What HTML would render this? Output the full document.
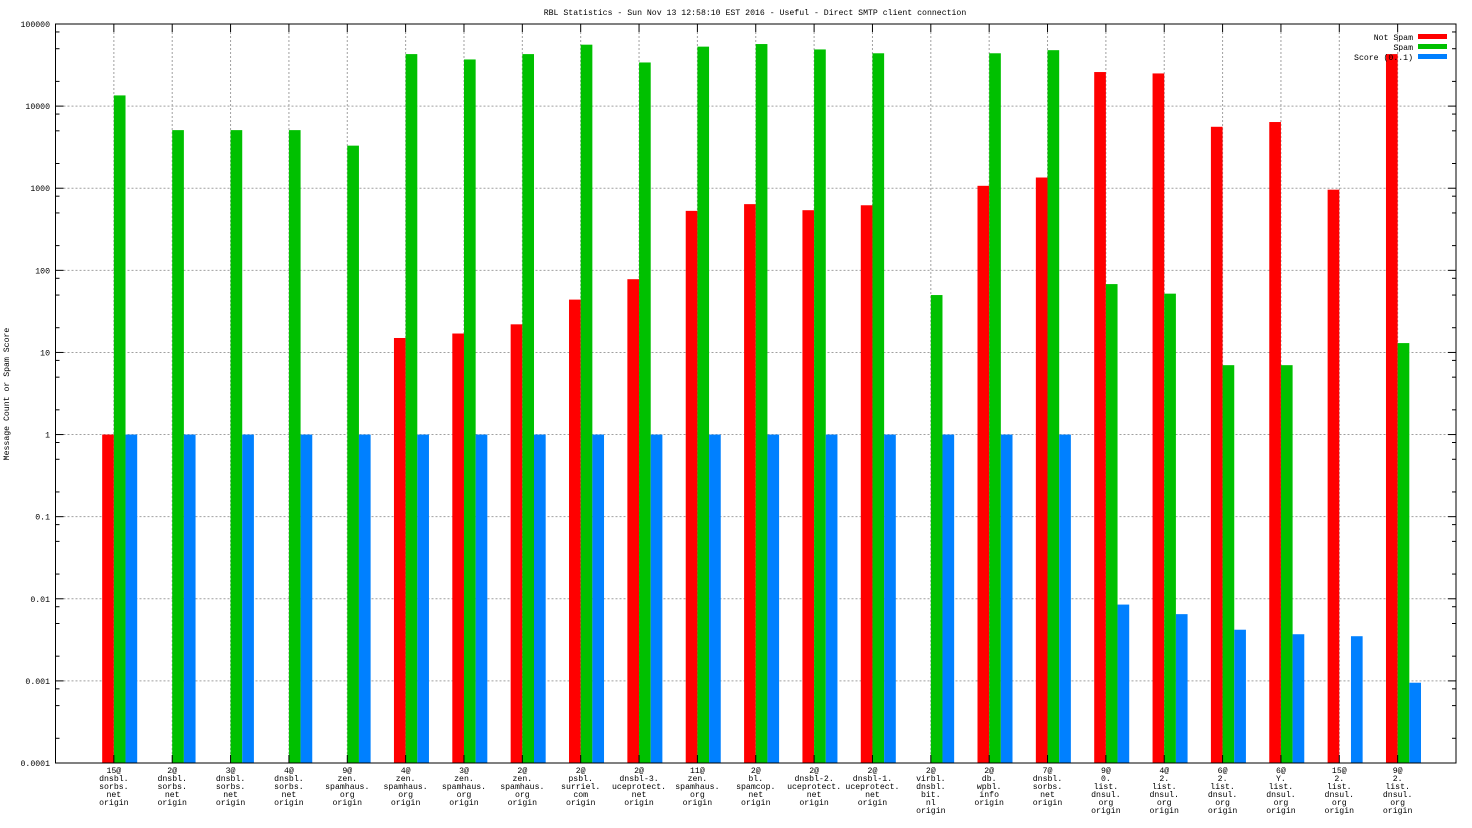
<!DOCTYPE html>
<html><head><meta charset="utf-8"><style>
html,body{margin:0;padding:0;background:#fff;}
svg{display:block;font-family:"Liberation Mono","DejaVu Sans Mono",monospace;font-size:8.2px;}
</style></head><body>
<svg id="chart" width="1472" height="828" xmlns="http://www.w3.org/2000/svg">
<text x="755" y="15" text-anchor="middle">RBL Statistics - Sun Nov 13 12:58:10 EST 2016 - Useful - Direct SMTP client connection</text>
<text transform="translate(9,394) rotate(-90)" text-anchor="middle">Message Count or Spam Score</text>
<g id="grid"></g>
<g id="bars"></g>
<g id="axes"></g>
<g id="legend">
<text x="1413" y="40" text-anchor="end">Not Spam</text>
<rect x="1418" y="34" width="29" height="5" fill="#ff0000"/>
<text x="1413" y="50" text-anchor="end">Spam</text>
<rect x="1418" y="44" width="29" height="5" fill="#00c000"/>
<text x="1413" y="60" text-anchor="end">Score (0..1)</text>
<rect x="1418" y="54" width="29" height="5" fill="#0080ff"/>
</g>
</svg>
<script>
const categories = [
["15@","dnsbl.","sorbs.","net","origin"],["2@","dnsbl.","sorbs.","net","origin"],["3@","dnsbl.","sorbs.","net","origin"],["4@","dnsbl.","sorbs.","net","origin"],
["9@","zen.","spamhaus.","org","origin"],["4@","zen.","spamhaus.","org","origin"],["3@","zen.","spamhaus.","org","origin"],["2@","zen.","spamhaus.","org","origin"],
["2@","psbl.","surriel.","com","origin"],["2@","dnsbl-3.","uceprotect.","net","origin"],["11@","zen.","spamhaus.","org","origin"],["2@","bl.","spamcop.","net","origin"],
["2@","dnsbl-2.","uceprotect.","net","origin"],["2@","dnsbl-1.","uceprotect.","net","origin"],["2@","virbl.","dnsbl.","bit.","nl","origin"],["2@","db.","wpbl.","info","origin"],
["7@","dnsbl.","sorbs.","net","origin"],["9@","0.","list.","dnsul.","org","origin"],["4@","2.","list.","dnsul.","org","origin"],["6@","2.","list.","dnsul.","org","origin"],
["6@","Y.","list.","dnsul.","org","origin"],["15@","2.","list.","dnsul.","org","origin"],["9@","2.","list.","dnsul.","org","origin"]
];
const notSpam = [1,null,null,null,null,15,17,22,44,78,530,640,540,620,null,1070,1350,26000,25000,5600,6400,960,43000];
const spam = [13500,5100,5100,5100,3300,43000,37000,43000,56000,34000,53000,57000,49000,44000,50,44000,48000,68,52,7,7,null,13];
const score = [1,1,1,1,1,1,1,1,1,1,1,1,1,1,1,1,1,0.0085,0.0065,0.0042,0.0037,0.0035,0.00095];
const yTickLabels = ["0.0001","0.001","0.01","0.1","1","10","100","1000","10000","100000"];

const NS="http://www.w3.org/2000/svg";
const L=55.5,R=1456,T=24,B=763;
const slots=categories.length+1;
const xs=i=>L+(R-L)*(i+1)/slots;
const bw=(R-L)/slots*0.2;
const ys=v=>B-(B-T)*(Math.log10(v)+4)/9;
function mk(tag,attrs,parent){const e=document.createElementNS(NS,tag);for(const k in attrs)e.setAttribute(k,attrs[k]);parent.appendChild(e);return e;}
const grid=document.getElementById('grid'),bars=document.getElementById('bars'),axes=document.getElementById('axes');
// horizontal grid + y ticks
yTickLabels.forEach((lab,i)=>{
  const y=ys(parseFloat(lab));
  if(i>0&&i<yTickLabels.length-1){const g=mk('line',{x1:L+8,x2:R-8,y1:y,y2:y,stroke:'#a0a0a0','stroke-dasharray':'2,2'},grid);
  
  }
  const t=mk('text',{x:50,y:y+3,'text-anchor':'end'},axes);t.textContent=lab;
  
  
  mk('line',{x1:L,x2:L+8,y1:y,y2:y,stroke:'#000'},axes);
  mk('line',{x1:R-8,x2:R,y1:y,y2:y,stroke:'#000'},axes);
  if(i<yTickLabels.length-1){[2,5,8].forEach(m=>{const yy=ys(parseFloat(lab)*m);
    mk('line',{x1:L,x2:L+4,y1:yy,y2:yy,stroke:'#000'},axes);
    mk('line',{x1:R-4,x2:R,y1:yy,y2:yy,stroke:'#000'},axes);});}
});
// vertical grid + category labels
categories.forEach((c,i)=>{
  const x=xs(i);
  const g=mk('line',{x1:x,x2:x,y1:T+8,y2:B-8,stroke:'#a0a0a0','stroke-dasharray':'2,2'},grid);
  
  
  mk('line',{x1:x,x2:x,y1:T,y2:T+8,stroke:'#000'},axes);
  mk('line',{x1:x,x2:x,y1:B-8,y2:B,stroke:'#000'},axes);
  const t=mk('text',{'text-anchor':'middle'},axes);
  
  
  c.forEach((ln,j)=>{const s=mk('tspan',{x:x,y:773+j*8},t);s.textContent=ln;});
});
// bars
[[notSpam,'#ff0000',-1,'bar-not-spam'],[spam,'#00c000',0,'bar-spam'],[score,'#0080ff',1,'bar-score']].forEach(([arr,col,off,name])=>{
  arr.forEach((v,i)=>{
    if(v==null)return;
    const x=xs(i)+off*bw, y=ys(v);
    const r=mk('rect',{x:x,y:y,width:bw,height:B-y,fill:col},bars);
    
    
  });
});
const fr=mk('rect',{x:L,y:T,width:R-L,height:B-T,fill:'none',stroke:'#000','stroke-width':1},axes);


</script>
</body></html>
